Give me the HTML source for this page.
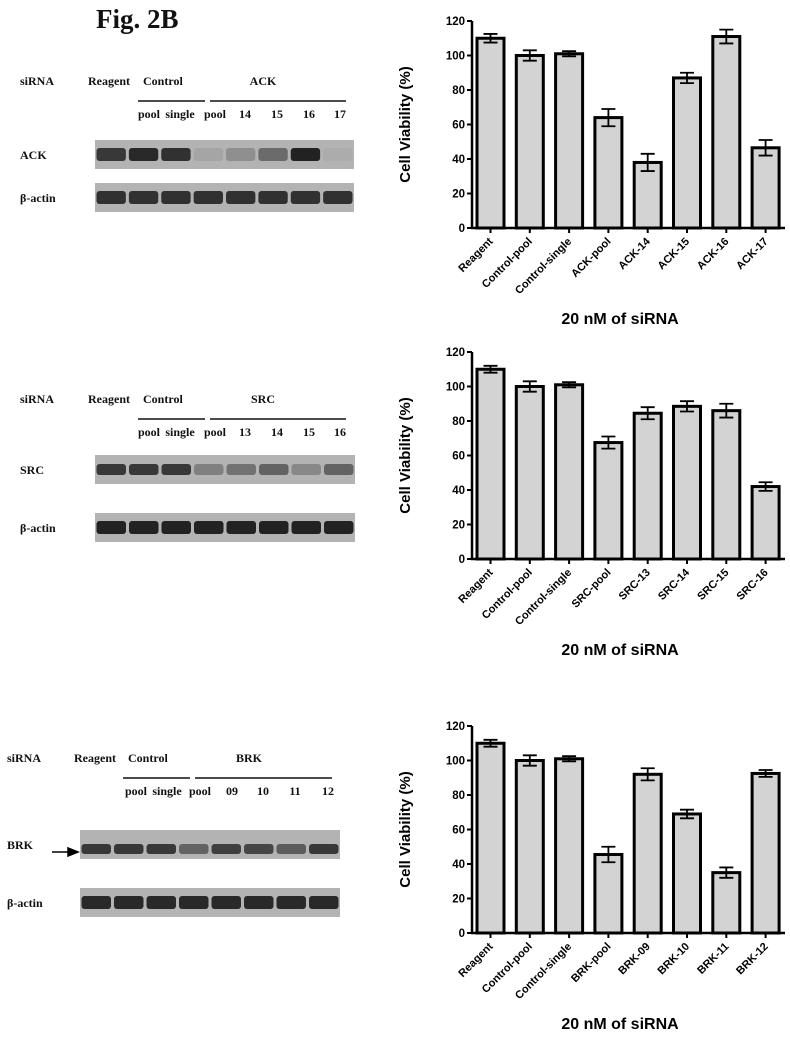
<!DOCTYPE html>
<html><head><meta charset="utf-8">
<style>
html,body{margin:0;padding:0;background:#fff;}
body{width:790px;height:1039px;position:relative;overflow:hidden;font-family:"Liberation Serif",serif;}
.t{position:absolute;font-weight:bold;font-size:12px;color:#111;white-space:nowrap;}
svg{position:absolute;left:0;top:0;}
</style></head>
<body>
<div class="t" style="left:96px;top:4px;font-size:27px;">Fig. 2B</div>
<svg id="blots" width="790" height="1039"></svg>
<svg id="charts" width="790" height="1039" style="font-family:'Liberation Sans',sans-serif"></svg>
<script>
// ---- chart data ----
const cats1 = ["Reagent","Control-pool","Control-single","ACK-pool","ACK-14","ACK-15","ACK-16","ACK-17"];
const vals1 = [110,100,101,64,38,87,111,46.5];
const errs1 = [2.5,3,1.5,5,5,3,4,4.5];
const cats2 = ["Reagent","Control-pool","Control-single","SRC-pool","SRC-13","SRC-14","SRC-15","SRC-16"];
const vals2 = [110,100,101,67.5,84.5,88.5,86,42];
const errs2 = [2,3,1.5,3.5,3.5,3,4,2.5];
const cats3 = ["Reagent","Control-pool","Control-single","BRK-pool","BRK-09","BRK-10","BRK-11","BRK-12"];
const vals3 = [110,100,101,45.5,92,69,35,92.5];
const errs3 = [2,3,1.5,4.5,3.5,2.5,3,2];
const yTicks = [0,20,40,60,80,100,120];

const NS="http://www.w3.org/2000/svg";
function mk(parent,tag,attrs,text){const e=document.createElementNS(NS,tag);for(const k in attrs)e.setAttribute(k,attrs[k]);if(text!==undefined)e.textContent=text;parent.appendChild(e);return e;}

const C=document.getElementById('charts');
function chart(cats,vals,errs,y0,name){
  const g=mk(C,'g',{});
  
  
  const ax=472, h=207;
  const ys=v=>y0-v*h/120;
  const xs=i=>490.5+i*39.3;
  const ya=mk(g,'line',{x1:ax,y1:ys(120),x2:ax,y2:y0+1,stroke:'#000','stroke-width':2.5});
  
  
  const xa=mk(g,'line',{x1:ax-1,y1:y0,x2:785,y2:y0,stroke:'#000','stroke-width':2.5});
  
  
  yTicks.forEach(t=>{
    mk(g,'line',{x1:ax-5,y1:ys(t),x2:ax,y2:ys(t),stroke:'#000','stroke-width':2});
    const tl=mk(g,'text',{x:ax-7,y:ys(t)+4,'text-anchor':'end','font-size':11.5,'font-weight':'bold'},t);
    
    
  });
  const yl=mk(g,'text',{x:0,y:0,'text-anchor':'middle','font-size':15,'font-weight':'bold',transform:`translate(410,${ys(60)}) rotate(-90)`},'Cell Viability (%)');
  
  
  cats.forEach((c,i)=>{
    const x=xs(i),v=vals[i],e=errs[i];
    const b=mk(g,'rect',{x:x-13.5,y:ys(v),width:27,height:y0-ys(v),fill:'#d3d3d3',stroke:'#000','stroke-width':3});
    
    
    const eb=mk(g,'path',{d:`M${x},${ys(v+e)}V${ys(v-e)}M${x-7},${ys(v+e)}H${x+7}M${x-7},${ys(v-e)}H${x+7}`,stroke:'#000','stroke-width':1.8,fill:'none'});
    
    
    mk(g,'line',{x1:x,y1:y0,x2:x,y2:y0+5,stroke:'#000','stroke-width':2});
    const cl=mk(g,'text',{x:0,y:0,'text-anchor':'end','font-size':11,'font-weight':'bold',transform:`translate(${x+3},${y0+14}) rotate(-45)`},c);
    
    
  });
  const xt=mk(g,'text',{x:620,y:y0+96,'text-anchor':'middle','font-size':16,'font-weight':'bold'},'20 nM of siRNA');
  
  
}
chart(cats1,vals1,errs1,228,'ack-viability-chart');
chart(cats2,vals2,errs2,559,'src-viability-chart');
chart(cats3,vals3,errs3,933,'brk-viability-chart');

// ---- blots ----
const B=document.getElementById('blots');
function txt(x,y,s,anchor,name){const t=mk(B,'text',{x:x,y:y,'font-size':12,'font-weight':'bold','font-family':'Liberation Serif, serif','text-anchor':anchor||'start',fill:'#111'},s);
  
  return t;}
function blot(o){
  txt(o.sx,o.ty,'siRNA','start','sirna-label');
  txt(o.rx,o.ty,'Reagent','start','reagent-label');
  txt(o.cx,o.ty,'Control','start','control-label');
  txt(o.kx,o.ty,o.name,'middle','target-label');
  mk(B,'line',{x1:o.l1[0],y1:o.ty+16,x2:o.l1[1],y2:o.ty+16,stroke:'#111','stroke-width':1.5});
  mk(B,'line',{x1:o.l2[0],y1:o.ty+16,x2:o.l2[1],y2:o.ty+16,stroke:'#111','stroke-width':1.5});
  o.subs.forEach((s,i)=>txt(o.subx[i],o.ty+33,s,'middle','lane-label'));
  [[o.b1,o.int1,o.name],[o.b2,o.int2,'β-actin']].forEach(([y,ints,lab],k)=>{
    const r=mk(B,'rect',{x:o.bx,y:y,width:o.bw,height:29,fill:'#b3b3b3'});
    
    
    const lw=o.bw/8;
    ints.forEach((v,i)=>{
      if(v<=0)return;
      const c=Math.round(179-v*145);
      mk(B,'rect',{x:o.bx+i*lw+1.5,y:y+(k?8:(o.bandY||8)),width:lw-3,height:k?13:(o.bandH||13),rx:3,fill:`rgb(${c},${c},${c})`});
    });
    txt(o.lx,y+19,lab,'start',k?'actin-row-label':'target-row-label');
  });
}
blot({sx:20,rx:88,cx:143,kx:263,ty:85,l1:[138,205],l2:[210,346],subs:['pool','single','pool','14','15','16','17'],subx:[149,180,215,245,277,309,340],
  bx:95,bw:259,b1:140,b2:183,lx:20,name:'ACK',int1:[0.85,0.95,0.9,0.1,0.25,0.5,1,0.05],int2:[0.9,0.9,0.9,0.9,0.9,0.9,0.9,0.9]});
blot({sx:20,rx:88,cx:143,kx:263,ty:403,l1:[138,205],l2:[210,346],subs:['pool','single','pool','13','14','15','16'],subx:[149,180,215,245,277,309,340],
  bx:95,bw:260,b1:455,b2:513,lx:20,name:'SRC',int1:[0.85,0.85,0.85,0.35,0.45,0.55,0.3,0.55],int2:[1,1,1,1,1,1,1,1],bandY:9,bandH:11});
blot({sx:7,rx:74,cx:128,kx:249,ty:762,l1:[123,190],l2:[195,332],subs:['pool','single','pool','09','10','11','12'],subx:[136,167,200,232,263,295,328],
  bx:80,bw:260,b1:830,b2:888,lx:7,name:'BRK',int1:[0.85,0.85,0.85,0.55,0.8,0.75,0.6,0.85],int2:[0.95,0.95,0.95,0.95,0.95,0.95,0.95,0.95],bandY:14,bandH:10});
const ar=mk(B,'path',{d:'M52,852H74M68,848L78,852L68,856Z',stroke:'#000','stroke-width':1.5,fill:'#000'});


</script>
</body></html>
